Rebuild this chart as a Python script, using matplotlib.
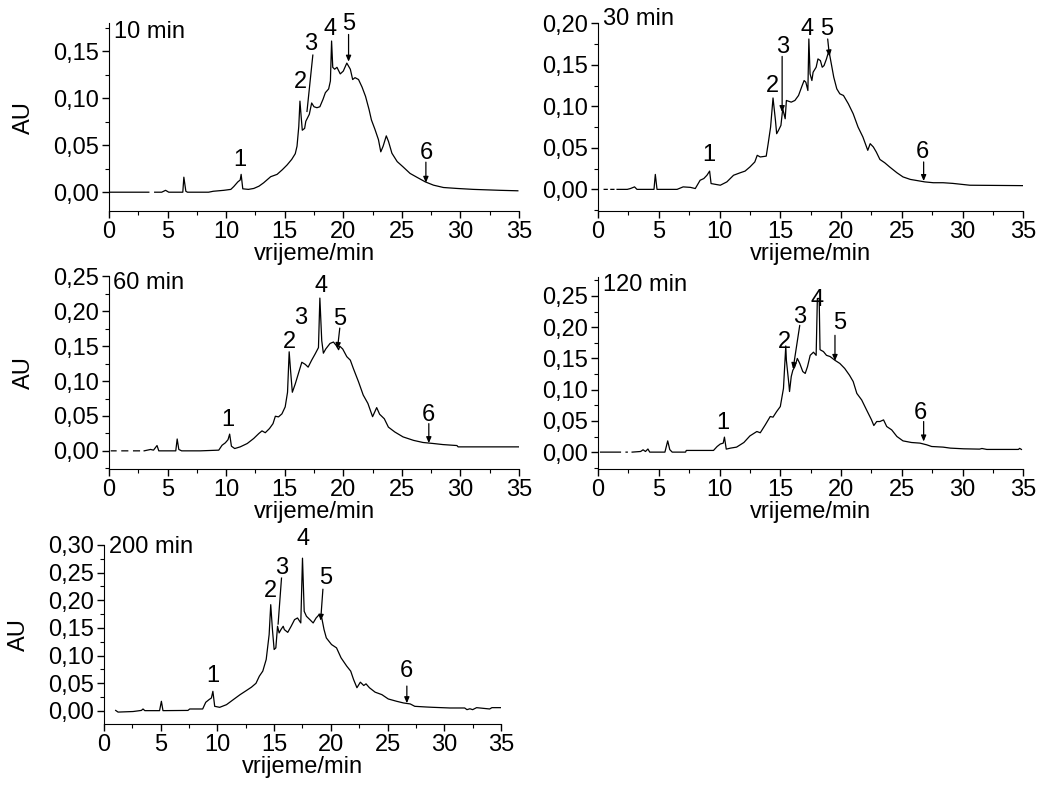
import numpy as np
import matplotlib.pyplot as plt
from matplotlib.ticker import MultipleLocator, FuncFormatter

plt.rcParams['font.family'] = ['Liberation Sans', 'DejaVu Sans']

nan = np.nan

# 10 min
t10 = [0, 3.4, nan, 3.9, 4.5, 4.83, 5.1, 6.3, 6.39, 6.56, 6.7, 8.5, 8.9, 9.8, 10.4, 10.65, 11.0, 11.2, 11.28,
       11.42, 11.9, 12.36, 12.8, 13.2, 13.8, 14.35, 14.8, 15.2, 15.6, 15.9, 16.05, 16.2, 16.3, 16.4, 16.5,
       16.7, 16.8, 17.1, 17.3, 17.5, 17.75, 18.0, 18.27, 18.47, 18.75, 18.9, 19.0, 19.1, 19.26, 19.46, 19.74,
       20.0, 20.3, 20.6, 20.8, 21.0, 21.3, 21.6, 21.9, 22.2, 22.4, 22.7, 23.0, 23.2, 23.4, 23.67, 23.86,
       24.15, 24.6, 25.1, 25.7, 26.3, 27.0, 27.7, 28.55, 29.7, 31.1, 33.4, 34.9]
a10 = [0, 0, nan, 0, 0, 0.002, 0, 0, 0.016, 0.001, 0, 0, 0.001, 0.002, 0.003, 0.006, 0.011, 0.013, 0.019,
       0.0036, 0.003, 0.004, 0.0064, 0.01, 0.0165, 0.019, 0.024, 0.029, 0.035, 0.041, 0.049, 0.07, 0.097, 0.081, 0.066,
       0.068, 0.0755, 0.083, 0.095, 0.091, 0.09, 0.091, 0.099, 0.106, 0.11, 0.1185, 0.161, 0.133, 0.131, 0.133, 0.126,
       0.129, 0.1375, 0.131, 0.12, 0.122, 0.12, 0.112, 0.102, 0.088, 0.077, 0.067, 0.056, 0.043, 0.049, 0.060, 0.054,
       0.0415, 0.0326, 0.027, 0.020, 0.0158, 0.011, 0.0075, 0.005, 0.004, 0.003, 0.002, 0.0015]

# 30 min
t30 = [0.5, 0.75, nan, 1.05, 1.3, nan, 1.56, 2.4, 2.66, 3.0, 3.2, 4.6, 4.71, 4.85, 6.5, 7.0, 7.6, 8.0, 8.4, 8.7,
       8.96, 9.18, 9.3, 10.06, 10.6, 11.15, 11.7, 12.1, 12.5, 12.9, 13.1, 13.35, 13.84, 14.0, 14.2, 14.4, 14.6,
       14.7, 14.85, 15.05, 15.2, 15.4, 15.5, 15.9, 16.2, 16.5, 16.8, 16.96, 17.1, 17.27, 17.35, 17.45, 17.6, 17.7,
       17.95, 18.1, 18.3, 18.45, 18.6, 18.8, 19.0, 19.15, 19.4, 19.65, 19.9, 20.2, 20.6, 21.0, 21.4, 21.8, 22.2,
       22.4, 22.66, 22.9, 23.2, 23.6, 24.0, 24.6, 25.1, 25.7, 26.5, 26.9, 27.6, 28.4, 29.2, 30.6, 35.0]
a30 = [0, 0, nan, 0, 0, nan, 0, 0, 0.001, 0.003, 0, 0, 0.018, 0, 0, 0.003, 0.0024, 0.001, 0.011, 0.013,
       0.017, 0.022, 0.007, 0.005, 0.009, 0.017, 0.02, 0.022, 0.027, 0.033, 0.041, 0.039, 0.04, 0.055, 0.075, 0.110, 0.083,
       0.067, 0.071, 0.077, 0.097, 0.085, 0.107, 0.105, 0.107, 0.113, 0.125, 0.131, 0.129, 0.119, 0.181, 0.139, 0.131, 0.141,
       0.147, 0.157, 0.155, 0.147, 0.149, 0.157, 0.167, 0.155, 0.135, 0.121, 0.115, 0.113, 0.103, 0.091, 0.075, 0.063, 0.047,
       0.055, 0.051, 0.045, 0.036, 0.032, 0.027, 0.020, 0.015, 0.012, 0.010, 0.009, 0.008, 0.008, 0.0072, 0.005, 0.0045]

# 60 min
t60 = [0.2, 0.6, nan, 1.1, 1.6, nan, 2.1, 2.6, nan, 3.0, 3.55, 3.8, 4.1, 4.25, 5.7, 5.82, 5.96, 6.2, 7.8, 9.37,
       9.65, 9.93, 10.16, 10.3, 10.45, 10.73, 11.2, 11.8, 12.35, 12.8, 13.06, 13.34, 13.7, 14.0, 14.2, 14.47, 14.76,
       15.04, 15.24, 15.38, 15.5, 15.65, 15.9, 16.17, 16.46, 16.75, 17.0, 17.3, 17.6, 17.88, 18.0, 18.16, 18.3, 18.5,
       18.87, 19.16, 19.4, 19.6, 19.7, 19.95, 20.3, 20.6, 20.86, 21.3, 21.7, 22.1, 22.5, 22.85, 23.1, 23.5, 23.85,
       24.4, 25.1, 26.0, 26.8, 27.7, 28.5, 29.7, 29.8, 35.0]
a60 = [0, 0, nan, 0, 0, nan, 0, 0, nan, 0, 0.002, 0.001, 0.0076, 0, 0, 0.017, 0.002, 0, 0, 0.001,
       0.008, 0.0115, 0.016, 0.024, 0.0067, 0.0033, 0.0057, 0.0105, 0.0177, 0.025, 0.0286, 0.026, 0.032, 0.039, 0.0496, 0.0487, 0.053,
       0.063, 0.084, 0.142, 0.115, 0.084, 0.096, 0.111, 0.127, 0.124, 0.120, 0.130, 0.139, 0.148, 0.219, 0.158, 0.140, 0.146,
       0.154, 0.156, 0.151, 0.145, 0.150, 0.146, 0.135, 0.130, 0.118, 0.099, 0.080, 0.068, 0.049, 0.062, 0.0525, 0.046, 0.034,
       0.027, 0.020, 0.015, 0.012, 0.0105, 0.009, 0.0076, 0.0057, 0.0057]

# 120 min
t120 = [0.2, 1.84, nan, 2.3, 2.4, nan, 2.8, 3.5, 3.7, 3.9, 4.1, 4.25, 5.5, 5.73, 5.9, 6.1, 7.2, 7.26, 7.45, 9.5,
        9.8, 10.06, 10.3, 10.4, 10.55, 10.9, 11.4, 12.0, 12.5, 13.07, 13.35, 13.76, 14.17, 14.4, 14.7, 15.0, 15.26,
        15.45, 15.5, 15.7, 15.76, 15.9, 16.03, 16.2, 16.4, 16.6, 16.85, 17.05, 17.24, 17.46, 17.73, 17.95, 18.05,
        18.1, 18.2, 18.27, 18.55, 18.8, 19.1, 19.5, 19.9, 20.3, 20.7, 21.0, 21.3, 21.7, 22.1, 22.5, 22.7, 22.94,
        23.2, 23.5, 23.76, 24.17, 24.6, 25.1, 25.8, 26.5, 27.05, 27.46, 28.4, 29.0, 30.1, 31.4, 31.6, 32.0, 34.6,
        34.7, 34.85]
a120 = [0, 0, nan, 0, 0, nan, 0, 0.001, 0.0037, 0.001, 0.005, 0, 0, 0.018, 0.004, 0, 0, 0.0027, 0.0027, 0.0027,
        0.009, 0.013, 0.0144, 0.024, 0.0048, 0.0064, 0.008, 0.0154, 0.026, 0.033, 0.031, 0.0436, 0.057, 0.056, 0.065, 0.073, 0.102,
        0.170, 0.147, 0.110, 0.097, 0.121, 0.131, 0.137, 0.150, 0.142, 0.129, 0.126, 0.137, 0.155, 0.160, 0.155, 0.246,
        0.246, 0.246, 0.164, 0.161, 0.155, 0.153, 0.147, 0.142, 0.134, 0.123, 0.113, 0.094, 0.0835, 0.0676, 0.052, 0.0426, 0.049,
        0.049, 0.0516, 0.041, 0.0356, 0.025, 0.018, 0.0154, 0.0144, 0.0117, 0.009, 0.008, 0.0064, 0.0053, 0.0048, 0.0058, 0.0043, 0.0043,
        0.006, 0.0043]

# 200 min
t200 = [1.03, 1.24, 2.56, 3.3, 3.44, 3.6, 4.9, 5.06, 5.2, 7.4, 7.56, 8.7, 8.97, 9.26, 9.47, 9.6, 9.76, 10.2, 10.8,
        11.4, 12.0, 12.56, 13.0, 13.4, 13.7, 14.0, 14.3, 14.56, 14.7, 14.85, 15.0, 15.15, 15.3, 15.44, 15.6, 15.8,
        15.9, 16.2, 16.5, 16.8, 17.06, 17.35, 17.5, 17.65, 17.85, 18.15, 18.44, 18.7, 18.97, 19.2, 19.4, 19.6, 20.06,
        20.5, 20.9, 21.4, 21.75, 22.0, 22.3, 22.6, 22.9, 23.1, 23.4, 23.9, 24.5, 25.06, 25.8, 26.4, 27.0, 27.4, 28.4,
        29.0, 30.5, 31.8, 32.0, 32.26, 32.5, 32.85, 34.0, 34.2, 35.0]
a200 = [0.001, -0.002, -0.001, 0.001, 0.0036, 0.0006, 0.0006, 0.0175, 0.0006, 0.001, 0.0036, 0.0036, 0.0157, 0.0205, 0.0235, 0.0355,
        0.0084, 0.0066, 0.0114, 0.0205, 0.0295, 0.037, 0.043, 0.05, 0.063, 0.072, 0.093, 0.138, 0.192, 0.147, 0.111, 0.114,
        0.153, 0.141, 0.147, 0.153, 0.147, 0.142, 0.153, 0.165, 0.168, 0.159, 0.276, 0.18, 0.171, 0.165, 0.159, 0.168, 0.174,
        0.168, 0.147, 0.132, 0.12, 0.114, 0.096, 0.081, 0.072, 0.057, 0.042, 0.052, 0.046, 0.049, 0.042, 0.034, 0.0295, 0.0217,
        0.0175, 0.0145, 0.0127, 0.0084, 0.0072, 0.0066, 0.0054, 0.0054, 0.0024, 0.004, 0.0024, 0.006, 0.0036, 0.006, 0.006]

panels = [
    dict(t=t10, a=a10, title='10 min', rect=[0.1046, 0.7326, 0.3935, 0.238], ylim=(-0.02, 0.18),
         yticks=np.arange(0, 0.16, 0.05), ylabel=True, titlexy=(0.4, 0.171),
         labels=[('1', 11.2, 0.034), ('2', 16.3, 0.117), ('3', 17.2, 0.158), ('4', 18.9, 0.174),
                 ('5', 20.5, 0.179), ('6', 27.05, 0.0415)],
         lines=[((17.4, 0.146), (16.9, 0.086))],
         arrows=[((20.45, 0.168), (20.45, 0.139)), ((27.05, 0.032), (27.05, 0.010))]),
    dict(t=t30, a=a30, title='30 min', rect=[0.574, 0.7326, 0.408, 0.238], ylim=(-0.026, 0.20),
         yticks=np.arange(0, 0.21, 0.05), ylabel=False, titlexy=(0.4, 0.205),
         labels=[('1', 9.1, 0.041), ('2', 14.36, 0.125), ('3', 15.2, 0.171), ('4', 17.2, 0.193),
                 ('5', 18.8, 0.193), ('6', 26.7, 0.045)],
         lines=[],
         arrows=[((15.15, 0.160), (15.15, 0.093)), ((18.9, 0.181), (19.05, 0.160)),
                 ((26.8, 0.033), (26.8, 0.010))]),
    dict(t=t60, a=a60, title='60 min', rect=[0.1046, 0.4056, 0.3935, 0.244], ylim=(-0.026, 0.25),
         yticks=np.arange(0, 0.26, 0.05), ylabel=True, titlexy=(0.3, 0.241),
         labels=[('1', 10.1, 0.044), ('2', 15.4, 0.156), ('3', 16.4, 0.191), ('4', 18.1, 0.236),
                 ('5', 19.7, 0.189), ('6', 27.3, 0.052)],
         lines=[],
         arrows=[((19.7, 0.176), (19.5, 0.146)), ((27.3, 0.039), (27.3, 0.011))]),
    dict(t=t120, a=a120, title='120 min', rect=[0.574, 0.4056, 0.408, 0.243], ylim=(-0.027, 0.28),
         yticks=np.arange(0, 0.26, 0.05), ylabel=False, titlexy=(0.4, 0.267),
         labels=[('1', 10.25, 0.046), ('2', 15.35, 0.177), ('3', 16.6, 0.216), ('4', 18.0, 0.243),
                 ('5', 19.87, 0.206), ('6', 26.5, 0.062)],
         lines=[],
         arrows=[((16.6, 0.203), (16.05, 0.133)), ((19.5, 0.187), (19.5, 0.146)),
                 ((26.8, 0.049), (26.8, 0.017))]),
    dict(t=t200, a=a200, title='200 min', rect=[0.0998, 0.0824, 0.381, 0.227], ylim=(-0.0235, 0.30),
         yticks=np.arange(0, 0.31, 0.05), ylabel=True, titlexy=(0.4, 0.297),
         labels=[('1', 9.6, 0.063), ('2', 14.7, 0.216), ('3', 15.7, 0.258), ('4', 17.56, 0.311),
                 ('5', 19.56, 0.240), ('6', 26.7, 0.072)],
         lines=[((15.65, 0.240), (15.35, 0.157))],
         arrows=[((19.3, 0.220), (19.1, 0.163)), ((26.7, 0.045), (26.7, 0.014))]),
]

fmt = FuncFormatter(lambda v, p: ('%.2f' % v).replace('.', ','))

fig = plt.figure(figsize=(10.42, 7.89), dpi=100)
for p in panels:
    ax = fig.add_axes(p['rect'])
    ax.plot(p['t'], p['a'], color='black', lw=0.9)
    ax.set_xlim(0, 35)
    ax.set_ylim(*p['ylim'])
    for s in ['top', 'right']:
        ax.spines[s].set_visible(False)
    ax.set_xticks(np.arange(0, 36, 5))
    ax.xaxis.set_minor_locator(MultipleLocator(2.5))
    ax.set_yticks(p['yticks'])
    ax.yaxis.set_minor_locator(MultipleLocator(0.025))
    ax.yaxis.set_major_formatter(fmt)
    ax.tick_params(which='major', direction='out', length=5, width=1, labelsize=17, pad=2)
    ax.tick_params(which='minor', direction='out', length=3, width=0.8)
    ax.set_xlabel('vrijeme/min', fontsize=17, labelpad=0)
    if p['ylabel']:
        ax.set_ylabel('AU', fontsize=17, labelpad=13)
    ax.text(p['titlexy'][0], p['titlexy'][1], p['title'], fontsize=17, ha='left', va='center')
    for s, x, y in p['labels']:
        ax.text(x, y, s, fontsize=17, ha='center', va='center', clip_on=False)
    for (x0, y0), (x1, y1) in p['lines']:
        ax.plot([x0, x1], [y0, y1], color='black', lw=0.9)
    for (x0, y0), (x1, y1) in p['arrows']:
        ax.annotate('', xy=(x1, y1), xytext=(x0, y0),
                    arrowprops=dict(arrowstyle='-|>,head_length=0.35,head_width=0.15', color='black', lw=0.9,
                                    shrinkA=0, shrinkB=0))

fig.savefig('out.png', dpi=100)
